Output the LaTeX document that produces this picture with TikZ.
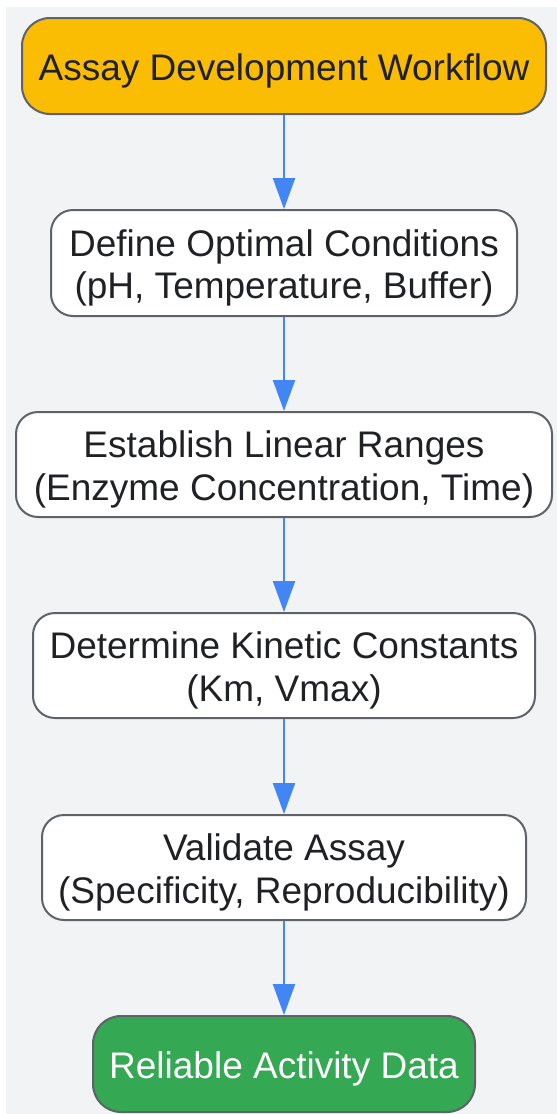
\documentclass[tikz,border=0pt]{standalone}
\usepackage{fontspec}
\setmainfont{Liberation Sans}
\usetikzlibrary{arrows.meta}
\definecolor{bggray}{HTML}{F1F3F4}
\definecolor{bordergray}{HTML}{5F6368}
\definecolor{txt}{HTML}{202124}
\definecolor{gold}{HTML}{FBBC04}
\definecolor{green}{HTML}{34A853}
\definecolor{arrowblue}{HTML}{4285F4}
\tikzset{
  box/.style={draw=bordergray, line width=2pt, fill=white, inner sep=0pt, rounded corners=22pt},
  startbox/.style={box, fill=gold, rounded corners=28pt},
  endbox/.style={box, fill=green, rounded corners=28pt},
  boxtext/.style={text=txt, align=center, inner sep=0pt, font=\fontsize{37}{42.5}\selectfont},
  endtext/.style={boxtext, text=white},
  flow/.style={draw=arrowblue, line width=2.2pt, -{Triangle[length=31pt,width=22pt]}}
}
\begin{document}
\begin{tikzpicture}[x=1pt,y=-1pt]
\useasboundingbox (0,0) rectangle (557,1114);
\fill[bggray] (6,7) rectangle (557,1114);
\node[startbox, minimum width=524pt, minimum height=96pt] (n1) at (284,66) {};
\node[boxtext] (t1) at ([yshift=-5pt]n1.center) {Assay Development Workflow};
\node[box, minimum width=466pt, minimum height=106pt] (n2) at (284,263) {};
\node[boxtext] (t2) at ([yshift=-5pt]n2.center) {Define Optimal Conditions\\(pH, Temperature, Buffer)};
\node[box, minimum width=536pt, minimum height=105pt] (n3) at (284,464.5) {};
\node[boxtext] (t3) at ([yshift=-5pt]n3.center) {Establish Linear Ranges\\(Enzyme Concentration, Time)};
\node[box, minimum width=502pt, minimum height=105pt] (n4) at (284,665.5) {};
\node[boxtext] (t4) at ([yshift=-5pt]n4.center) {Determine Kinetic Constants\\(Km, Vmax)};
\node[box, minimum width=484pt, minimum height=105pt] (n5) at (284,867.5) {};
\node[boxtext] (t5) at ([yshift=-5pt]n5.center) {Validate Assay\\(Specificity, Reproducibility)};
\node[endbox, minimum width=382pt, minimum height=96pt] (n6) at (284,1064) {};
\node[endtext] (t6) at ([yshift=-5pt]n6.center) {Reliable Activity Data};
\draw[flow] (n1) -- (n2);
\draw[flow] (n2) -- (n3);
\draw[flow] (n3) -- (n4);
\draw[flow] (n4) -- (n5);
\draw[flow] (n5) -- (n6);
\end{tikzpicture}
\end{document}
